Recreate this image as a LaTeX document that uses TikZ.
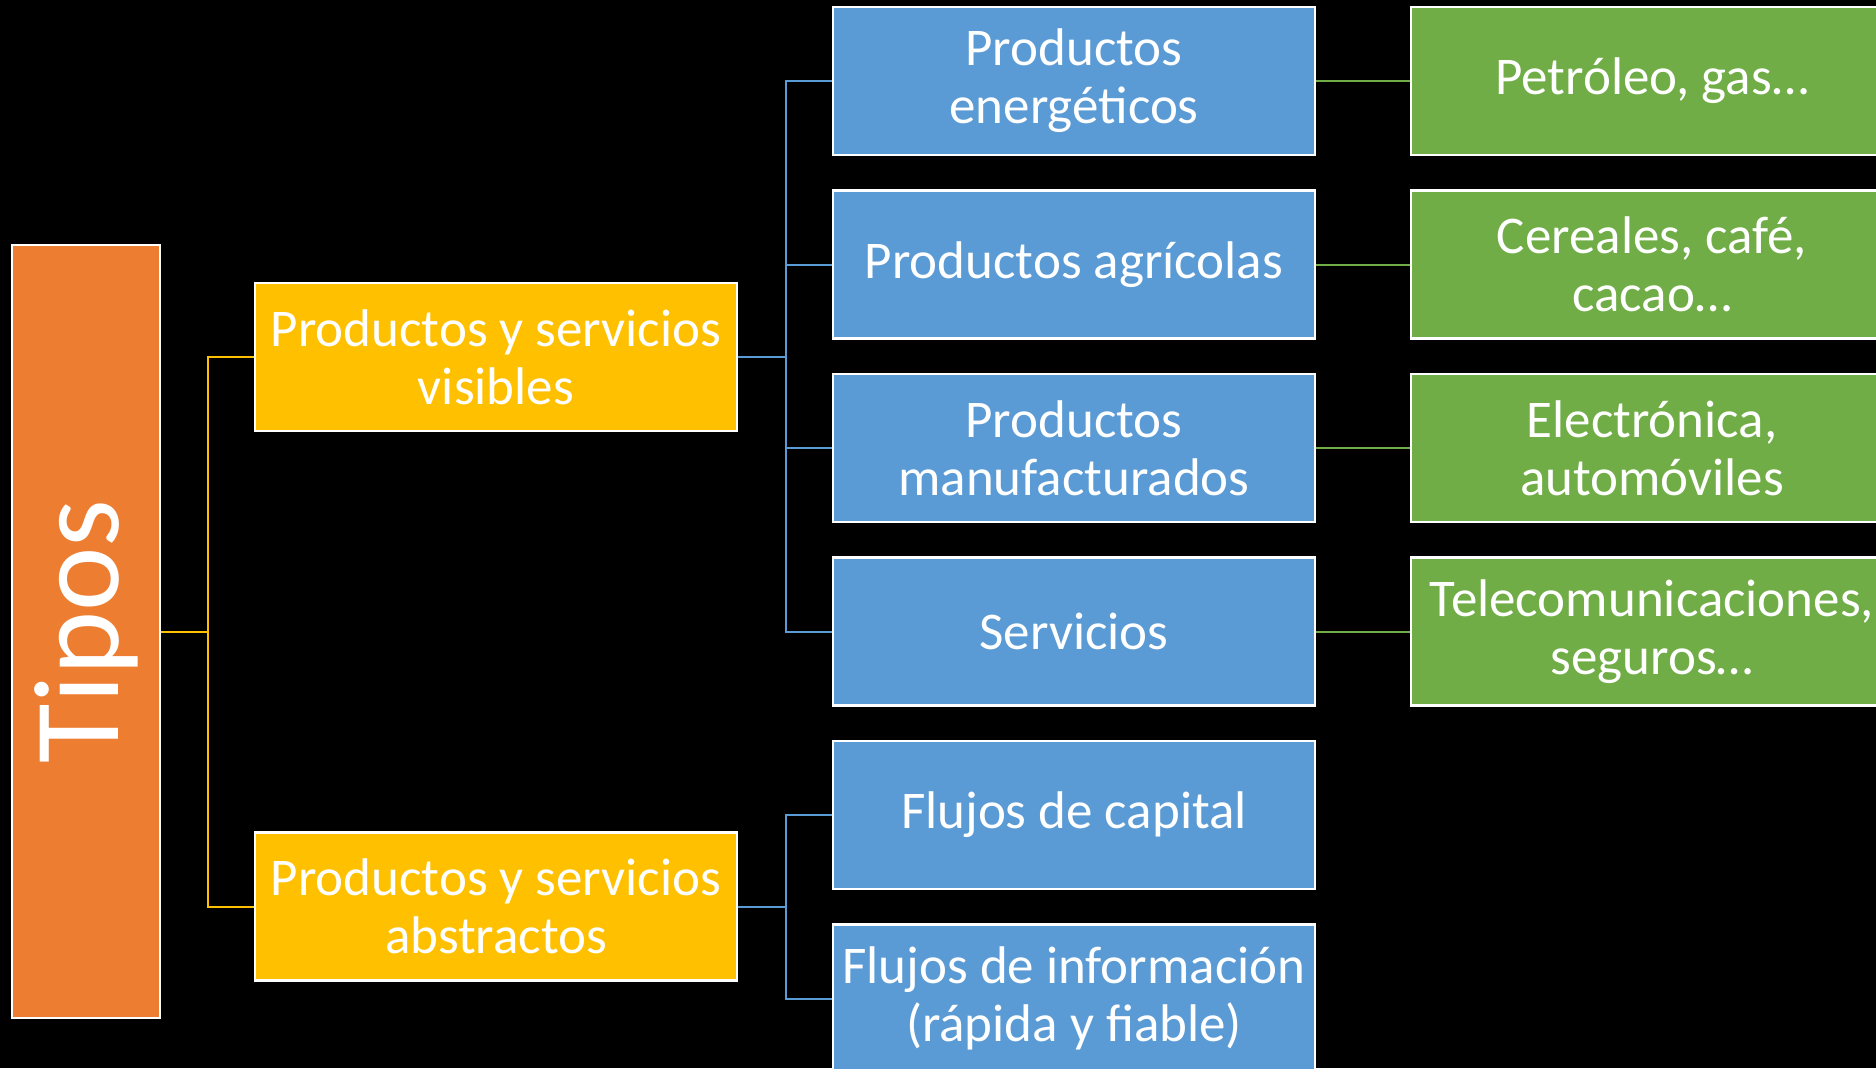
\documentclass[tikz,border=0pt]{standalone}
\usepackage{fontspec}
\setmainfont{Carlito}
\definecolor{naranja}{HTML}{ED7D31}
\definecolor{amarillo}{HTML}{FFC000}
\definecolor{azul}{HTML}{5B9BD5}
\definecolor{verde}{HTML}{70AD47}
\tikzset{
	box/.style={draw=white, line width=2.5pt, text=white, align=center, inner sep=0pt,
		minimum width=482pt, minimum height=148pt, font=\fontsize{53}{58}\selectfont},
	ylw/.style={draw=amarillo, line width=2pt},
	azl/.style={draw=azul, line width=2pt},
	vrd/.style={draw=verde, line width=2pt}
}

\begin{document}
\begin{tikzpicture}[x=1pt,y=-1pt]
	\fill[black] (0,0) rectangle (1876,1068);
	\useasboundingbox (0,0) rectangle (1876,1068);

	\node[box, fill=naranja, rotate=90, minimum width=773pt, font=\fontsize{122}{140}\selectfont] (tipos) at (86,631.5) {Tipos};

	\node[box, fill=amarillo] (visibles) at (496,357) {Productos y servicios\\visibles};
	\node[box, fill=amarillo] (abstractos) at (496,906.5) {Productos y servicios\\abstractos};

	\node[box, fill=azul] (energeticos) at (1074,81) {Productos\\energéticos};
	\node[box, fill=azul] (agricolas) at (1074,264.5) {Productos agrícolas};
	\node[box, fill=azul] (manufacturados) at (1074,448) {Productos\\manufacturados};
	\node[box, fill=azul] (servicios) at (1074,631.5) {Servicios};
	\node[box, fill=azul] (capital) at (1074,815) {Flujos de capital};
	\node[box, fill=azul] (informacion) at (1074,998.5) {Flujos de información\\(rápida y fiable)};

	\node[box, fill=verde] (petroleo) at (1652,81) {Petróleo, gas…};
	\node[box, fill=verde] (cereales) at (1652,264.5) {Cereales, café,\\cacao…};
	\node[box, fill=verde] (electronica) at (1652,448) {Electrónica,\\automóviles};
	\node[box, fill=verde] (telecom) at (1652,631.5) {Telecomunicaciones,\\seguros…};

	\draw[ylw] (tipos.south) -- ++(47,0) |- (visibles.west);
	\draw[ylw] (tipos.south) -- ++(47,0) |- (abstractos.west);
	\foreach \n in {energeticos,agricolas,manufacturados,servicios}
		\draw[azl] (visibles.east) -- ++(48,0) |- (\n.west);
	\foreach \n in {capital,informacion}
		\draw[azl] (abstractos.east) -- ++(48,0) |- (\n.west);
	\draw[vrd] (energeticos) -- (petroleo);
	\draw[vrd] (agricolas) -- (cereales);
	\draw[vrd] (manufacturados) -- (electronica);
	\draw[vrd] (servicios) -- (telecom);
\end{tikzpicture}
\end{document}
